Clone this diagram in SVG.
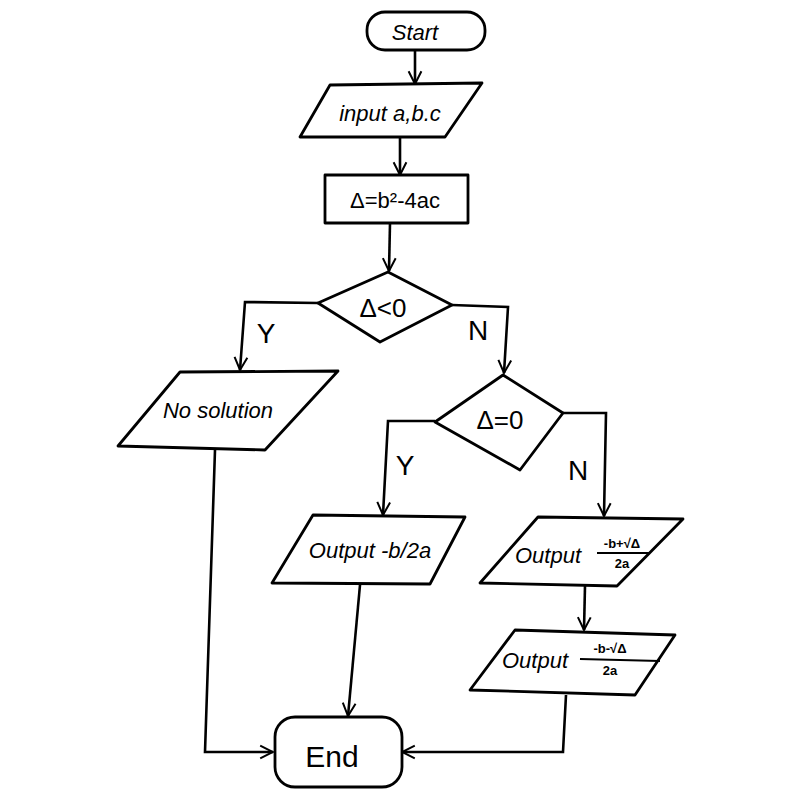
<svg xmlns="http://www.w3.org/2000/svg" width="800" height="800" viewBox="0 0 800 800">
<defs>
<marker id="arr" viewBox="0 0 20 20" refX="18" refY="10" markerWidth="16" markerHeight="16" markerUnits="userSpaceOnUse" orient="auto">
<path d="M2 2 L18 10 L2 18" fill="none" stroke="#000" stroke-width="2.5"/>
</marker>
<style>
.s{fill:#fff;stroke:#000;stroke-width:2.8;stroke-linejoin:round}
.c{fill:none;stroke:#000;stroke-width:2.6}
.t{font-family:"Liberation Sans",Arial,sans-serif;font-style:italic;font-size:22px;fill:#000;text-anchor:middle;dominant-baseline:central}
.f{font-family:"Liberation Sans",Arial,sans-serif;font-size:13px;font-weight:bold;fill:#000;text-anchor:middle;dominant-baseline:central}
.l{font-family:"Liberation Sans",Arial,sans-serif;font-size:28px;fill:#000;text-anchor:middle;dominant-baseline:central}
</style>
</defs>
<rect width="800" height="800" fill="#fff"/>
<g id="connectors">
<path class="c" d="M415 50 L415 84" marker-end="url(#arr)"/>
<path class="c" d="M400 137 L400 175" marker-end="url(#arr)"/>
<path class="c" d="M390 223 L389 271" marker-end="url(#arr)"/>
<path class="c" d="M318 303 L245 302 L240 370" marker-end="url(#arr)"/>
<path class="c" d="M452 305 L508 307 L504 373" marker-end="url(#arr)"/>
<path class="c" d="M435 421 L388 421 L383 515" marker-end="url(#arr)"/>
<path class="c" d="M563 413 L606 413 L604 516" marker-end="url(#arr)"/>
<path class="c" d="M585 586 L584 630" marker-end="url(#arr)"/>
<path class="c" d="M215 450 L205 752 L273 752" marker-end="url(#arr)"/>
<path class="c" d="M360 585 L348 716" marker-end="url(#arr)"/>
<path class="c" d="M566 695 L563 752 L402 752" marker-end="url(#arr)"/>
<text class="l" x="266" y="333">Y</text>
<text class="l" x="478" y="330">N</text>
<text class="l" x="405" y="465">Y</text>
<text class="l" x="578" y="470">N</text>
</g>
<g id="start">
<rect class="s" x="367" y="12" width="118" height="38" rx="18"/>
<text class="t" x="415" y="32">Start</text>
</g>
<g id="input">
<polygon class="s" points="330,85 482,83 445,137 300,137"/>
<text class="t" x="390" y="113">input a,b.c</text>
</g>
<g id="delta">
<rect class="s" x="325" y="175" width="143" height="48"/>
<text class="t" x="395" y="200" style="font-style:normal">Δ=b²-4ac</text>
</g>
<g id="cond1">
<polygon class="s" points="388,272 452,305 380,342 318,303"/>
<text class="t" x="383" y="308" style="font-style:normal;font-size:26px">Δ&lt;0</text>
</g>
<g id="nosol">
<polygon class="s" points="180,372 338,371 265,450 118,446"/>
<text class="t" x="218" y="410">No solution</text>
</g>
<g id="cond2">
<polygon class="s" points="503,375 563,413 520,470 435,422"/>
<text class="t" x="500" y="420" style="font-style:normal;font-size:26px">Δ=0</text>
</g>
<g id="out1">
<polygon class="s" points="313,515 465,517 430,584 272,583"/>
<text class="t" x="370" y="550">Output -b/2a</text>
</g>
<g id="out2">
<polygon class="s" points="538,517 683,519 617,586 480,583"/>
<text class="t" x="548" y="555">Output</text>
<text class="f" x="622" y="543">-b+√Δ</text>
<line x1="597" y1="553" x2="650" y2="553" stroke="#000" stroke-width="2"/>
<text class="f" x="622" y="563">2a</text>
</g>
<g id="out3">
<polygon class="s" points="515,630 675,635 635,695 470,690"/>
<text class="t" x="535" y="660">Output</text>
<text class="f" x="610" y="648">-b-√Δ</text>
<line x1="580" y1="659" x2="660" y2="661" stroke="#000" stroke-width="2"/>
<text class="f" x="610" y="670">2a</text>
</g>
<g id="end">
<rect class="s" x="275" y="717" width="127" height="70" rx="20"/>
<text class="t" x="332" y="756" style="font-style:normal;font-size:30px">End</text>
</g>
</svg>
